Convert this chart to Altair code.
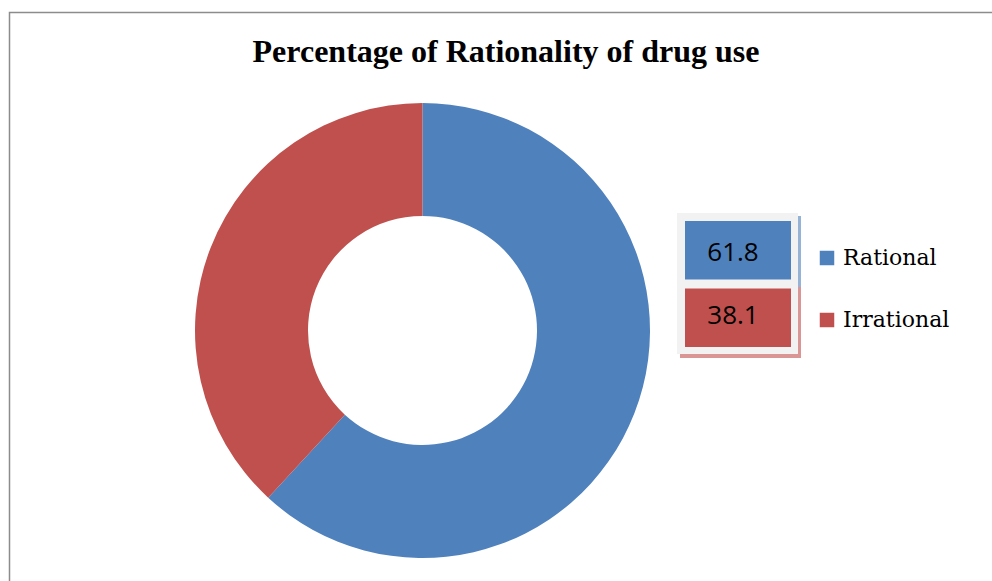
import altair as alt
import pandas as pd

cats = ["Rational", "Irrational"]
values = [61.8, 38.1]
labels = ["61.8", "38.1"]
colors = ["#4F81BD", "#C0504D"]
title_text = "Percentage of Rationality of drug use"

df = pd.DataFrame({"category": cats, "value": values, "label": labels, "order": [0, 1]})
one = pd.DataFrame({"t": [title_text]})

legend = alt.Legend(
    orient="none", legendX=816, legendY=247, title=None, symbolType="square",
    symbolSize=210, symbolStrokeWidth=0, symbolOpacity=1, labelFont="DejaVu Serif",
    labelFontSize=22, labelColor="black", labelOffset=5, rowPadding=40, padding=0,
    labelBaseline="middle",
)
color = alt.Color("category:N", scale=alt.Scale(domain=cats, range=colors), legend=legend)

border = alt.Chart(one).mark_rect(fill=None, stroke="#8c8c8c", strokeWidth=1.5).encode(
    x=alt.value(9.5), x2=alt.value(1100), y=alt.value(12.5), y2=alt.value(700)
)

arc = alt.Chart(df).mark_arc(radius=227.5, innerRadius=114.5).encode(
    theta=alt.Theta("value:Q", stack=True),
    color=color,
    order=alt.Order("order:Q"),
    x=alt.value(422.5), y=alt.value(330.5),
)

shadow = alt.Chart(df).mark_rect(opacity=0.6).encode(
    y=alt.Y("category:N", sort=cats, axis=None,
            scale=alt.Scale(domain=cats, range=[216, 358], paddingInner=0, paddingOuter=0)),
    x=alt.value(680), x2=alt.value(801),
    color=color,
)

panel = alt.Chart(one).mark_rect(fill="#f2f2f2").encode(
    x=alt.value(677), x2=alt.value(798), y=alt.value(213), y2=alt.value(354)
)

band = alt.Scale(domain=cats, range=[221, 347], paddingInner=0.1333, paddingOuter=0)
boxes = alt.Chart(df).mark_rect().encode(
    y=alt.Y("category:N", sort=cats, axis=None, scale=band),
    x=alt.value(685), x2=alt.value(791),
    color=color,
)
texts = alt.Chart(df).mark_text(font="Open Sans", fontSize=26, color="black",
                                  align="center", baseline="middle").encode(
    y=alt.Y("category:N", sort=cats, axis=None, scale=band),
    x=alt.value(733),
    text="label:N",
)

title = alt.Chart(one).mark_text(font="Liberation Serif", fontWeight="bold", fontSize=32,
                                  color="black", align="center", baseline="alphabetic").encode(
    x=alt.value(506), y=alt.value(62), text="t:N"
)

chart = alt.layer(border, arc, shadow, panel, boxes, texts, title).resolve_scale(
    y="independent"
).properties(
    width=992, height=581, autosize=alt.AutoSizeParams(type="none"), padding=0
).configure_view(stroke=None)

chart.save("out.html", embed_options={"renderer": "svg", "actions": False})
